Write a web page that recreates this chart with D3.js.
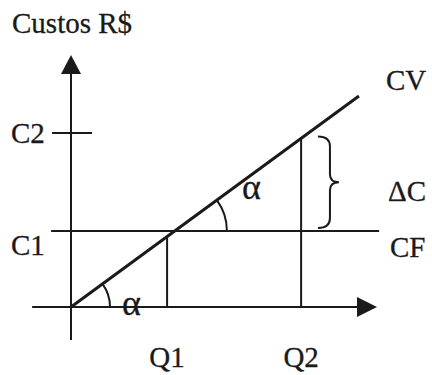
<!DOCTYPE html>
<html>
<head>
<meta charset="utf-8">
<script src="https://cdn.jsdelivr.net/npm/d3@7"></script>
<style>
  html, body { margin: 0; padding: 0; background: #fff; }
  svg { display: block; }
  text { font-family: "Liberation Serif", "Times New Roman", serif; fill: #1a1a1a; stroke: #1a1a1a; stroke-width: 0.3px; }
</style>
</head>
<body>
<svg id="chart" width="432" height="375"></svg>
<script>
// ---- data (schematic units 0..100 on both axes) ----
const qLabels = ["Q1", "Q2"];
const qValues = [31.4, 75.2];
const cLabels = ["C1", "C2"];
const cValues = [30.2, 69.0];
const cvLine = [[0, 0], [94.1, 83.7]];        // variable cost line CV
const cfRange = [-6.5, 100.7];               // fixed cost line CF (quantity span)
const lineLabels = ["CV", "CF", "ΔC"];
const yTitle = "Custos R$";
const angleLabel = "α";

const svg = d3.select("#chart");
const x = d3.scaleLinear().domain([0, 100]).range([71, 377]);
const y = d3.scaleLinear().domain([0, 100]).range([307, 55]);
const ink = "#1a1a1a";

const cvSlope = (cvLine[1][1] - cvLine[0][1]) / (cvLine[1][0] - cvLine[0][0]);
const cv = q => cvSlope * q;

// axes
svg.append("line").attr("x1", x(-12.7)).attr("x2", x(93.5)).attr("y1", y(0)).attr("y2", y(0))
  .attr("stroke", ink).attr("stroke-width", 2);
svg.append("line").attr("x1", x(0)).attr("x2", x(0)).attr("y1", y(-13.1)).attr("y2", y(93))
  .attr("stroke", ink).attr("stroke-width", 2);
// arrow heads
svg.append("path")
  .attr("d", `M${x(100)},${y(0)} L${x(100) - 20},${y(0) - 10} L${x(100) - 20},${y(0) + 10} Z`)
  .attr("fill", ink);
svg.append("path")
  .attr("d", `M${x(0)},${y(100)} L${x(0) - 10},${y(100) + 19} L${x(0) + 10},${y(100) + 19} Z`)
  .attr("fill", ink);

// C2 tick
svg.append("line").attr("x1", x(-6.2)).attr("x2", x(6.9))
  .attr("y1", y(cValues[1])).attr("y2", y(cValues[1]))
  .attr("stroke", ink).attr("stroke-width", 2);

// CF line
svg.append("line").attr("x1", x(cfRange[0])).attr("x2", x(cfRange[1]))
  .attr("y1", y(cValues[0])).attr("y2", y(cValues[0]))
  .attr("stroke", ink).attr("stroke-width", 2);

// verticals at Q1, Q2
svg.selectAll("line.q").data(qValues).join("line").attr("class", "q")
  .attr("x1", d => x(d)).attr("x2", d => x(d))
  .attr("y1", y(0)).attr("y2", d => y(cv(d)))
  .attr("stroke", ink).attr("stroke-width", 2);

// CV line
svg.append("line")
  .attr("x1", x(cvLine[0][0])).attr("y1", y(cvLine[0][1]))
  .attr("x2", x(cvLine[1][0])).attr("y2", y(cvLine[1][1]))
  .attr("stroke", ink).attr("stroke-width", 3);

// angle arcs
const pxSlope = (y(cvLine[0][1]) - y(cvLine[1][1])) / (x(cvLine[1][0]) - x(cvLine[0][0]));
const theta = Math.atan(pxSlope);
const qCross = cValues[0] / cvSlope;
const arcs = [
  { cx: x(0), cy: y(0), r: 39 },
  { cx: x(qCross), cy: y(cValues[0]), r: 52 }
];
const arcGen = d3.arc().startAngle(Math.PI / 2 - theta).endAngle(Math.PI / 2);
svg.selectAll("path.ang").data(arcs).join("path").attr("class", "ang")
  .attr("transform", d => `translate(${d.cx},${d.cy})`)
  .attr("d", d => arcGen({ innerRadius: d.r, outerRadius: d.r }))
  .attr("fill", "none").attr("stroke", ink).attr("stroke-width", 2);

// brace for ΔC
{
  const x0 = x(80.7), yt = y(cv(qValues[1])) - 2, yb = y(cValues[0]) - 3;
  const mid = (yt + yb) / 2;
  const p = d3.path();
  p.moveTo(x0, yt);
  p.quadraticCurveTo(x0 + 12, yt, x0 + 12, yt + 10);
  p.lineTo(x0 + 12, mid - 8);
  p.quadraticCurveTo(x0 + 12, mid, x0 + 21, mid);
  p.quadraticCurveTo(x0 + 12, mid, x0 + 12, mid + 8);
  p.lineTo(x0 + 12, yb - 10);
  p.quadraticCurveTo(x0 + 12, yb, x0, yb);
  svg.append("path").attr("d", p.toString())
    .attr("fill", "none").attr("stroke", ink).attr("stroke-width", 2);
}

// text
const fs = 29;
svg.append("text").attr("x", 12).attr("y", 33).attr("font-size", fs).text(yTitle);
svg.selectAll("text.c").data(cLabels).join("text").attr("class", "c")
  .attr("x", 11).attr("y", (d, i) => y(cValues[i]) + (i === 0 ? 24 : 10))
  .attr("font-size", fs).text(d => d);
svg.selectAll("text.q").data(qLabels).join("text").attr("class", "q")
  .attr("x", (d, i) => x(qValues[i])).attr("y", 367).attr("text-anchor", "middle")
  .attr("font-size", fs).text(d => d);
svg.append("text").attr("x", 386).attr("y", 90).attr("font-size", fs).text(lineLabels[0]);
svg.append("text").attr("x", 390).attr("y", 257).attr("font-size", fs).text(lineLabels[1]);
svg.append("text").attr("x", 388).attr("y", 201).attr("font-size", fs).text(lineLabels[2]);
svg.append("text").attr("x", 122).attr("y", 315).attr("font-size", 36).text(angleLabel);
svg.append("text").attr("x", 242).attr("y", 199).attr("font-size", 36).text(angleLabel);
</script>
</body>
</html>
